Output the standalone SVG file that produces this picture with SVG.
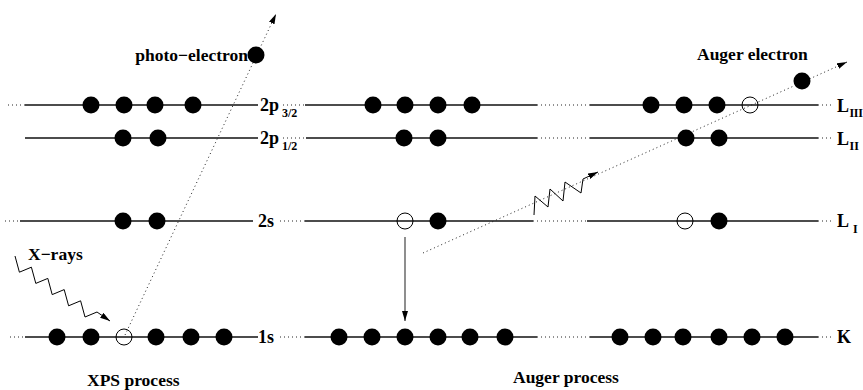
<svg xmlns="http://www.w3.org/2000/svg" width="863" height="390" viewBox="0 0 863 390">
  <defs>
    <marker id="head" viewBox="0 0 10 6" refX="10" refY="3" markerWidth="10" markerHeight="6" markerUnits="userSpaceOnUse" orient="auto">
      <path d="M0,0 L10,3 L0,6 Z" fill="#000"/>
    </marker>
  </defs>
  <style>
    .lvl { stroke: #111; stroke-width: 1.3; fill: none; }
    .dot { stroke: #222; stroke-width: 1; stroke-dasharray: 1 3; fill: none; }
    .e { fill: #000; }
    .h { fill: none; stroke: #000; stroke-width: 1; }
    .lab { font-family: "Liberation Serif", "Times New Roman", serif; font-weight: bold; font-size: 17.5px; fill: #000; }
    .lvl-lab { font-family: "Liberation Serif", "Times New Roman", serif; font-weight: bold; font-size: 18px; fill: #000; }
    .sub { font-family: "Liberation Serif", "Times New Roman", serif; font-weight: bold; font-size: 12px; fill: #000; }
    .wave { stroke: #000; stroke-width: 1; fill: none; }
  </style>
  <rect width="863" height="390" fill="#fff"/>

  <!-- energy levels: solid segments per column, dotted continuations -->
  <g id="levels">
    <!-- 2p3/2 / LIII -->
    <line class="dot" x1="8" y1="105" x2="25" y2="105"/>
    <line class="lvl" x1="25" y1="105" x2="258" y2="105"/>
    <line class="dot" x1="283" y1="105" x2="305" y2="105"/>
    <line class="lvl" x1="305" y1="105" x2="537" y2="105"/>
    <line class="dot" x1="537" y1="105" x2="590" y2="105"/>
    <line class="lvl" x1="590" y1="105" x2="818" y2="105"/>
    <line class="dot" x1="818" y1="105" x2="834" y2="105"/>
    <!-- 2p1/2 / LII -->
    <line class="lvl" x1="25" y1="138" x2="258" y2="138"/>
    <line class="dot" x1="283" y1="138" x2="306" y2="138"/>
    <line class="lvl" x1="306" y1="138" x2="537" y2="138"/>
    <line class="dot" x1="537" y1="138" x2="590" y2="138"/>
    <line class="lvl" x1="590" y1="138" x2="818" y2="138"/>
    <line class="dot" x1="818" y1="138" x2="834" y2="138"/>
    <!-- 2s / LI -->
    <line class="dot" x1="5" y1="221" x2="20" y2="221"/>
    <line class="lvl" x1="20" y1="221" x2="253" y2="221"/>
    <line class="dot" x1="280" y1="221" x2="305" y2="221"/>
    <line class="lvl" x1="305" y1="221" x2="533" y2="221"/>
    <line class="dot" x1="533" y1="221" x2="587" y2="221"/>
    <line class="lvl" x1="587" y1="221" x2="818" y2="221"/>
    <line class="dot" x1="818" y1="221" x2="834" y2="221"/>
    <!-- 1s / K -->
    <line class="dot" x1="10" y1="337" x2="25" y2="337"/>
    <line class="lvl" x1="25" y1="337" x2="258" y2="337"/>
    <line class="dot" x1="280" y1="337" x2="305" y2="337"/>
    <line class="lvl" x1="305" y1="337" x2="537" y2="337"/>
    <line class="dot" x1="537" y1="337" x2="590" y2="337"/>
    <line class="lvl" x1="590" y1="337" x2="818" y2="337"/>
    <line class="dot" x1="818" y1="337" x2="832" y2="337"/>
  </g>

  <!-- transitions and emitted electrons -->
  <g id="connectors">
    <line class="dot" x1="125" y1="335" x2="276" y2="14" marker-end="url(#head)"/>
    <line class="dot" x1="423" y1="253" x2="847" y2="62" marker-end="url(#head)"/>
    <line x1="405" y1="237" x2="405" y2="321" stroke="#444" stroke-width="1.2" marker-end="url(#head)"/>
    <polyline class="wave" points="15,256 19.4,272.2 31.4,267.2 35.8,283.4 47.8,278.4 52.2,294.6 64.2,289.6 68.6,305.8 80.6,300.8 85,317 97,312 110,321" marker-end="url(#head)"/>
    <polyline class="wave" points="534,215 535,196 548,207 550,189 563,201 565,182 581,193 583,179 598,172" marker-end="url(#head)"/>
  </g>

  <!-- XPS column -->
  <g id="xps-2p32">
    <circle class="e" cx="91" cy="105" r="8.5"/>
    <circle class="e" cx="124" cy="105" r="8.5"/>
    <circle class="e" cx="155" cy="105" r="8.5"/>
    <circle class="e" cx="193" cy="105" r="8.5"/>
  </g>
  <g id="xps-2p12">
    <circle class="e" cx="123" cy="138" r="8.5"/>
    <circle class="e" cx="158" cy="138" r="8.5"/>
  </g>
  <g id="xps-2s">
    <circle class="e" cx="123" cy="221" r="8.5"/>
    <circle class="e" cx="157" cy="221" r="8.5"/>
  </g>
  <g id="xps-1s">
    <circle class="e" cx="57" cy="337" r="8.5"/>
    <circle class="e" cx="91" cy="337" r="8.5"/>
    <circle class="h" cx="124" cy="337" r="8"/>
    <circle class="e" cx="156" cy="337" r="8.5"/>
    <circle class="e" cx="191" cy="337" r="8.5"/>
    <circle class="e" cx="224" cy="337" r="8.5"/>
  </g>
  <g id="photo-electron">
    <circle class="e" cx="256" cy="55" r="8.5"/>
    <text class="lab" x="248" y="61" text-anchor="end">photo−electron</text>
  </g>
  <g id="x-rays">
    <text class="lab" x="28" y="260">X−rays</text>
  </g>

  <!-- Auger column (before emission) -->
  <g id="aug-2p32">
    <circle class="e" cx="373" cy="105" r="8.5"/>
    <circle class="e" cx="405" cy="105" r="8.5"/>
    <circle class="e" cx="438" cy="105" r="8.5"/>
    <circle class="e" cx="472" cy="105" r="8.5"/>
  </g>
  <g id="aug-2p12">
    <circle class="e" cx="404" cy="138" r="8.5"/>
    <circle class="e" cx="438" cy="138" r="8.5"/>
  </g>
  <g id="aug-2s">
    <circle class="h" cx="405" cy="221" r="8"/>
    <circle class="e" cx="438" cy="221" r="8.5"/>
  </g>
  <g id="aug-1s">
    <circle class="e" cx="339" cy="337" r="8.5"/>
    <circle class="e" cx="372" cy="337" r="8.5"/>
    <circle class="e" cx="405" cy="337" r="8.5"/>
    <circle class="e" cx="438" cy="337" r="8.5"/>
    <circle class="e" cx="470" cy="337" r="8.5"/>
    <circle class="e" cx="505" cy="337" r="8.5"/>
  </g>

  <!-- Auger column (final state) -->
  <g id="fin-L3">
    <circle class="e" cx="651" cy="105" r="8.5"/>
    <circle class="e" cx="684" cy="105" r="8.5"/>
    <circle class="e" cx="717" cy="105" r="8.5"/>
    <circle class="h" cx="750" cy="105" r="8"/>
  </g>
  <g id="fin-L2">
    <circle class="e" cx="686" cy="138" r="8.5"/>
    <circle class="e" cx="719" cy="138" r="8.5"/>
  </g>
  <g id="fin-L1">
    <circle class="h" cx="685" cy="221" r="8"/>
    <circle class="e" cx="719" cy="221" r="8.5"/>
  </g>
  <g id="fin-K">
    <circle class="e" cx="620" cy="337" r="8.5"/>
    <circle class="e" cx="653" cy="337" r="8.5"/>
    <circle class="e" cx="683" cy="337" r="8.5"/>
    <circle class="e" cx="719" cy="337" r="8.5"/>
    <circle class="e" cx="752" cy="337" r="8.5"/>
    <circle class="e" cx="785" cy="337" r="8.5"/>
  </g>
  <g id="auger-electron">
    <circle class="e" cx="802" cy="81" r="8.5"/>
    <text class="lab" x="697" y="60">Auger electron</text>
  </g>

  <!-- level labels -->
  <g id="labels-left">
    <text class="lvl-lab" x="260" y="111">2p</text><text class="sub" x="282" y="117">3/2</text>
    <text class="lvl-lab" x="260" y="144">2p</text><text class="sub" x="282" y="150">1/2</text>
    <text class="lvl-lab" x="258" y="227">2s</text>
    <text class="lvl-lab" x="258" y="343">1s</text>
  </g>
  <g id="labels-right">
    <text class="lvl-lab" x="837" y="112">L</text><text class="sub" x="849.5" y="117" font-size="11" letter-spacing="-0.3">III</text>
    <text class="lvl-lab" x="837" y="145">L</text><text class="sub" x="849.5" y="150" font-size="11">II</text>
    <text class="lvl-lab" x="837" y="227">L</text><text class="sub" x="853" y="233" font-size="11">I</text>
    <text class="lvl-lab" x="837" y="343">K</text>
  </g>
  <g id="captions">
    <text class="lab" x="87" y="386">XPS process</text>
    <text class="lab" x="513" y="383">Auger process</text>
  </g>
</svg>
